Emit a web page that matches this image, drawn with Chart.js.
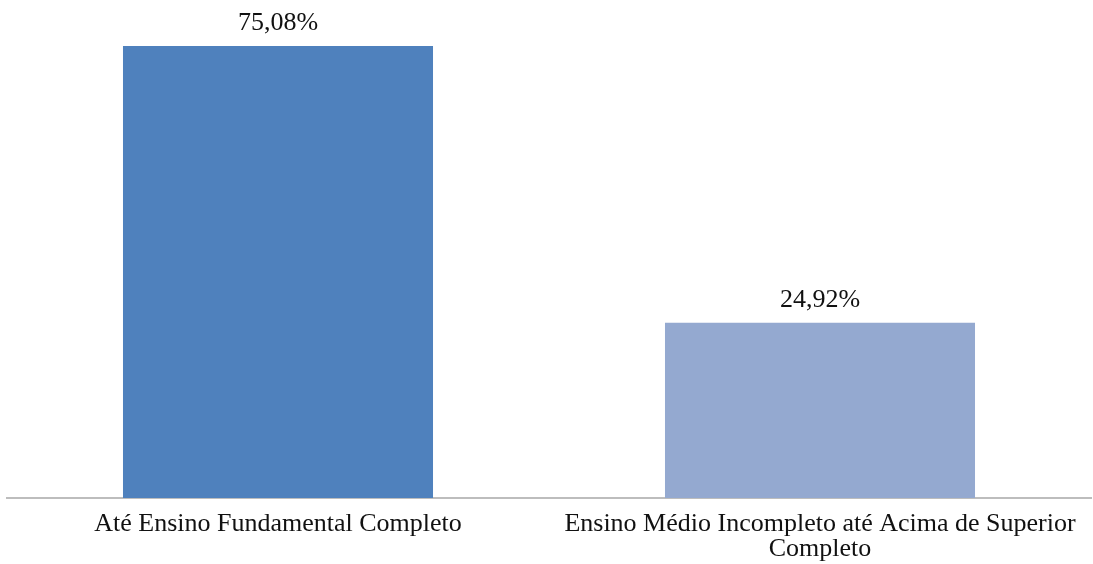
<!DOCTYPE html>
<html>
<head>
<meta charset="utf-8">
<script src="https://cdn.jsdelivr.net/npm/chart.js@4"></script>
<style>
  html, body { margin: 0; padding: 0; background: #fff; }
  #wrap { width: 1093px; height: 564px; }
</style>
</head>
<body>
<div id="wrap"><canvas id="escolaridade"></canvas></div>
<script>
// data
const categories = [
    'Até Ensino Fundamental Completo',
    ['Ensino Médio Incompleto até Acima de Superior', 'Completo']
];
const percentages = [75.08, 24.92];
const valueLabels = ['75,08%', '24,92%'];
const barColors = ['#4F81BD', '#94A9D0'];

// the original axis does not start at zero
const yMin = -6.8;
const yMax = 83.4;

const textColor = '#111';
const serif = "'Liberation Serif', 'Times New Roman', serif";

// value labels above each bar
const valueLabelPlugin = {
    id: 'valueLabels',
    afterDatasetsDraw(chart) {
        const ctx = chart.ctx;
        const meta = chart.getDatasetMeta(0);
        ctx.save();
        ctx.font = `26px ${serif}`;
        ctx.fillStyle = textColor;
        ctx.textAlign = 'center';
        ctx.textBaseline = 'bottom';
        meta.data.forEach((bar, i) => {
            ctx.fillText(valueLabels[i], bar.x, bar.y - 10);
        });
        ctx.restore();
    }
};

const ctx = document.getElementById('escolaridade').getContext('2d');
new Chart(ctx, {
    type: 'bar',
    data: {
        labels: categories,
        datasets: [{
            data: percentages,
            backgroundColor: barColors,
            borderWidth: 0,
            base: yMin,
            barPercentage: 0.572,
            categoryPercentage: 1
        }]
    },
    options: {
        responsive: true,
        maintainAspectRatio: false,
        animation: false,
        layout: { padding: { left: 7, right: 2, top: 0, bottom: 0 } },
        plugins: {
            legend: { display: false },
            tooltip: { enabled: false }
        },
        scales: {
            x: {
                grid: { display: false, drawTicks: false },
                border: { display: true, color: '#BDBDBD', width: 2 },
                ticks: {
                    color: textColor,
                    font: { family: serif, size: 26, lineHeight: 0.96 },
                    padding: 14,
                    maxRotation: 0
                },
                afterFit: (scale) => { scale.height = 66; }
            },
            y: {
                display: false,
                min: yMin,
                max: yMax
            }
        }
    },
    plugins: [valueLabelPlugin]
});
</script>
</body>
</html>
